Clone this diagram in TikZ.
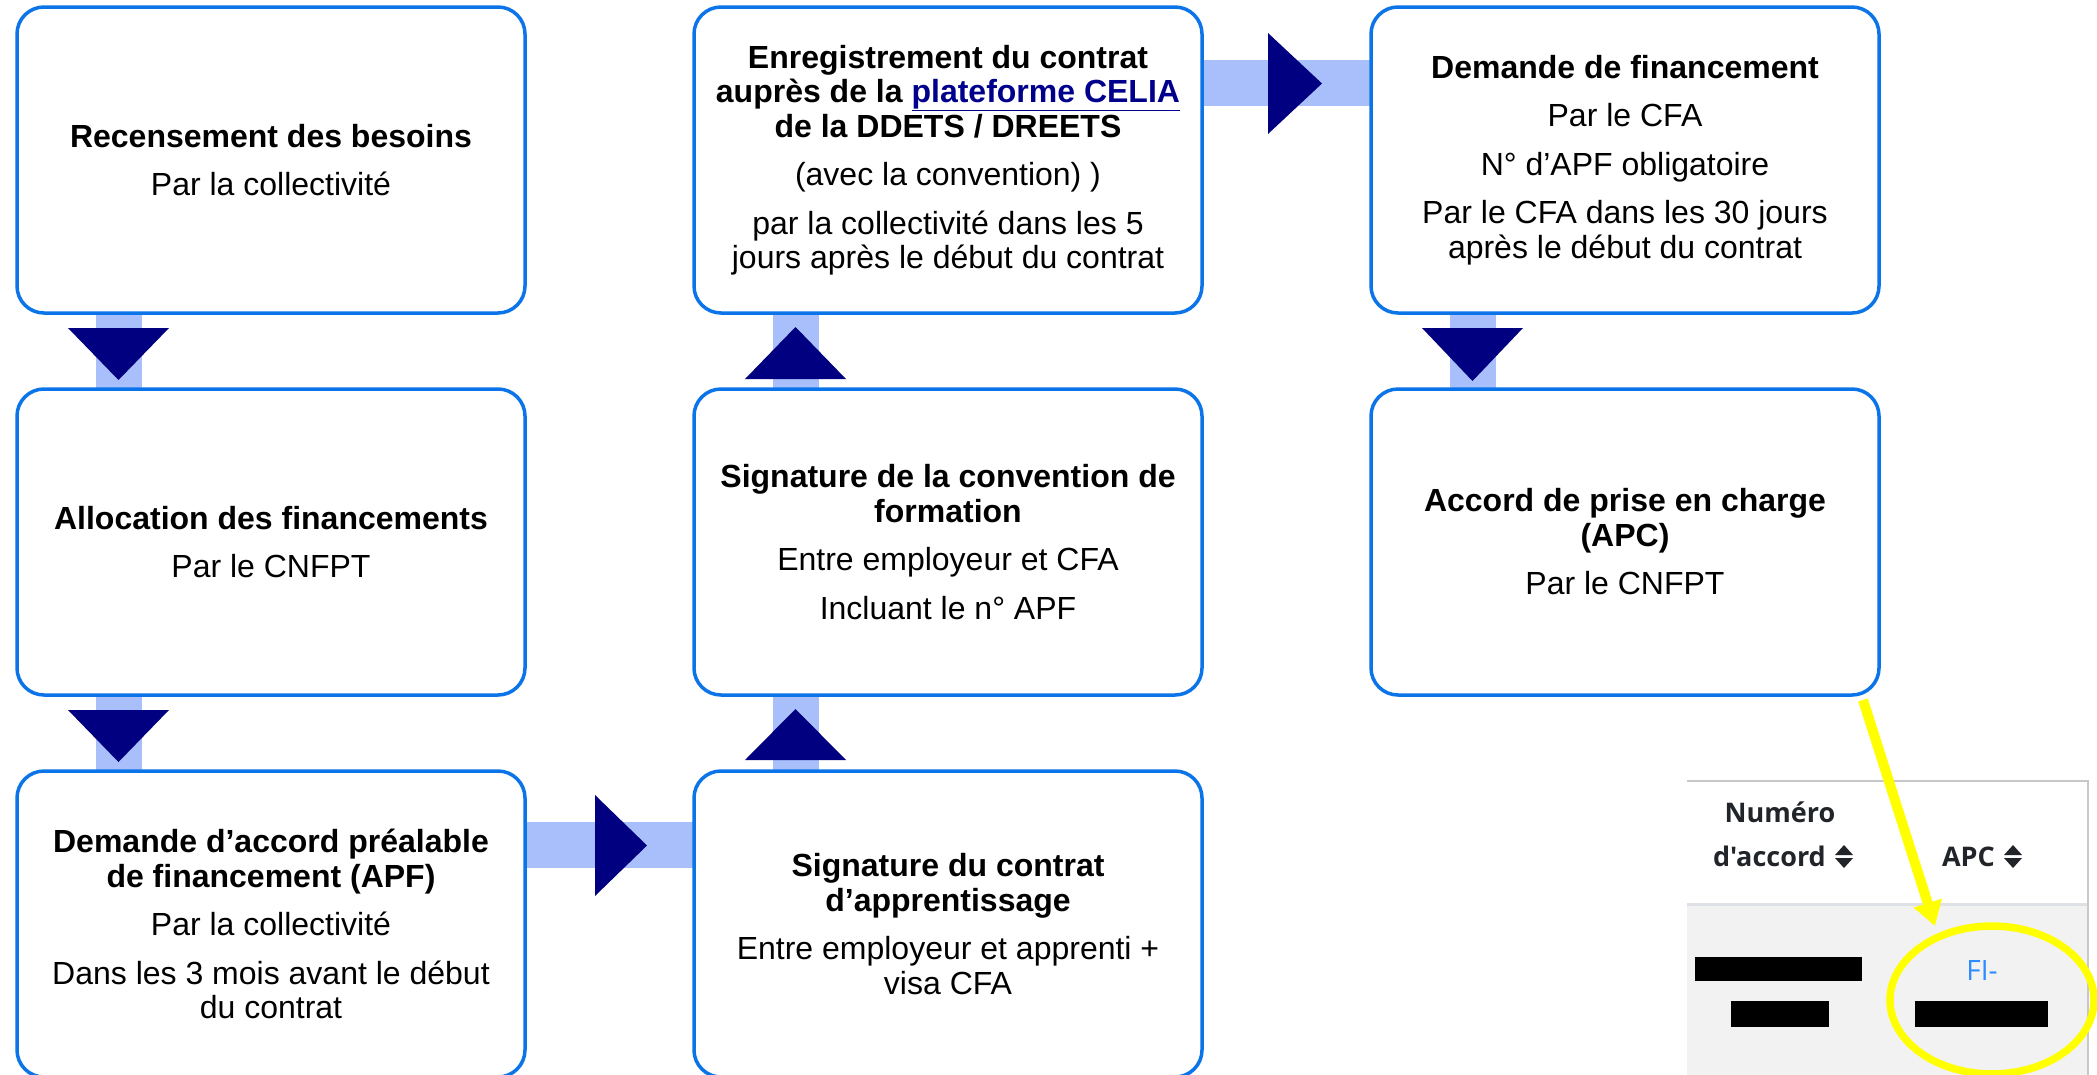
\documentclass[tikz,border=0pt]{standalone}
\usepackage{fontspec}
\setmainfont{Liberation Sans}
\newfontfamily\osans{Open Sans}
\usetikzlibrary{arrows.meta,calc,backgrounds}
\definecolor{boxblue}{RGB}{11,116,232}
\definecolor{barblue}{RGB}{169,191,251}
\definecolor{navy}{RGB}{0,0,128}
\definecolor{linknavy}{RGB}{0,0,140}
\definecolor{ink}{RGB}{33,37,41}
\definecolor{fiblue}{RGB}{45,140,255}
\definecolor{bodygray}{RGB}{242,242,242}
\definecolor{sepgray}{RGB}{222,226,230}
\definecolor{edgegray}{RGB}{200,200,200}
\definecolor{hiyellow}{RGB}{255,255,0}
\newcommand\boxtitle[1]{\textbf{#1}}
\tikzset{
  stepbox/.style={draw=boxblue, line width=3.5pt, fill=white, rounded corners=27pt,
    minimum width=508pt, minimum height=306pt, inner sep=0pt, outer sep=0pt,
    align=center, font=\fontsize{32}{34.5}\selectfont},
  bar/.style={draw=barblue, line width=46pt},
  tri/.style={fill=navy},
  hdr/.style={font=\osans\bfseries\fontsize{27}{30}\selectfont, text=ink, inner sep=0pt},
  redact/.style={fill=black},
  sorticon/.style={fill=ink},
}
\begin{document}
\begin{tikzpicture}[x=1pt,y=-1pt]
\useasboundingbox (0,0) rectangle (2097,1074);

% boxes
\node[stepbox] (b11) at (271,160) {\boxtitle{Recensement des besoins}\\[14pt] Par la collectivité};
\node[stepbox] (b21) at (271,542) {\boxtitle{Allocation des financements}\\[14pt] Par le CNFPT};
\node[stepbox] (b31) at (271,924) {\boxtitle{Demande d’accord préalable}\\ \boxtitle{de financement (APF)}\\[14pt] Par la collectivité\\[14pt] Dans les 3 mois avant le début\\ du contrat};
\node[stepbox] (b32) at (948,924) {\boxtitle{Signature du contrat}\\ \boxtitle{d’apprentissage}\\[14pt] Entre employeur et apprenti +\\ visa CFA};
\node[stepbox] (b22) at (948,542) {\boxtitle{Signature de la convention de}\\ \boxtitle{formation}\\[14pt] Entre employeur et CFA\\[14pt] Incluant le n° APF};
\node[stepbox] (b12) at (948,160) {\boxtitle{Enregistrement du contrat}\\ \boxtitle{auprès de la \textcolor{linknavy}{\underline{plateforme CELIA}}}\\ \boxtitle{de la DDETS / DREETS}\\[14pt] (avec la convention) )\\[14pt] par la collectivité dans les 5\\ jours après le début du contrat};
\node[stepbox] (b13) at (1625,160) {\boxtitle{Demande de financement}\\[14pt] Par le CFA\\[14pt] N° d’APF obligatoire\\[14pt] Par le CFA dans les 30 jours\\ après le début du contrat};
\node[stepbox] (b23) at (1625,542) {\boxtitle{Accord de prise en charge}\\ \boxtitle{(APC)}\\[14pt] Par le CNFPT};

% connector bars behind boxes
\begin{pgfonlayer}{background}
\fill[white] (0,0) rectangle (2097,1074);
\draw[bar] ($(b11.south west)+(102,0)$) -- ($(b21.north west)+(102,0)$);
\draw[bar] ($(b21.south west)+(102,0)$) -- ($(b31.north west)+(102,0)$);
\draw[bar] ($(b31.north east)+(0,74)$) -- ($(b32.north west)+(0,74)$);
\draw[bar] ($(b32.north west)+(102,0)$) -- ($(b22.south west)+(102,0)$);
\draw[bar] ($(b22.north west)+(102,0)$) -- ($(b12.south west)+(102,0)$);
\draw[bar] ($(b12.north east)+(0,76)$) -- ($(b13.north west)+(0,76)$);
\draw[bar] ($(b13.south west)+(102,0)$) -- ($(b23.north west)+(102,0)$);
\end{pgfonlayer}

% triangles
\fill[tri] ($(b11.south west)+(51,15)$) -- ++(101,0) -- ++(-50.5,52) -- cycle;
\fill[tri] ($(b21.south west)+(51,15)$) -- ++(101,0) -- ++(-50.5,52) -- cycle;
\fill[tri] ($(b31.north east)+(70,24)$) -- ++(0,101) -- ++(52,-50.5) -- cycle;
\fill[tri] ($(b22.south west)+(51,65)$) -- ++(101,0) -- ++(-50.5,-51) -- cycle;
\fill[tri] ($(b12.south west)+(51,66)$) -- ++(101,0) -- ++(-50.5,-52) -- cycle;
\fill[tri] ($(b12.north east)+(66,26)$) -- ++(0,101) -- ++(54,-50.5) -- cycle;
\fill[tri] ($(b13.south west)+(51,15)$) -- ++(101,0) -- ++(-50.5,53) -- cycle;

% screenshot inset
\fill[white] (1687,781) rectangle (2088,1080);
\fill[bodygray] (1687,905) rectangle (2087,1080);
\draw[sepgray, line width=3pt] (1687,904) -- (2087,904);
\draw[edgegray, line width=2pt] (1687,781) -- (2088,781) -- (2088,1080);
\node[hdr, anchor=base] (hnum) at (1780,822) {Numéro};
\node[hdr, anchor=base east] (hacc) at (1826,866) {d'accord};
\fill[sorticon] (1835,855) -- (1853,855) -- (1844,845) -- cycle;
\fill[sorticon] (1835,858) -- (1853,858) -- (1844,868) -- cycle;
\node[hdr, anchor=base east] (hapc) at (1995,866) {APC};
\fill[sorticon] (2004,855) -- (2022,855) -- (2013,845) -- cycle;
\fill[sorticon] (2004,858) -- (2022,858) -- (2013,868) -- cycle;
\node[font=\osans\fontsize{28}{30}\selectfont, text=fiblue, anchor=base, inner sep=0pt] (fi) at (1982,980) {FI-};
\fill[redact] (1695,957) rectangle (1862,981);
\fill[redact] (1731,1001) rectangle (1829,1027);
\fill[redact] (1915,1001) rectangle (2048,1027);

% yellow highlight
\coordinate (ys) at (1863,700);
\coordinate (ye) at (1935,926);
\draw[hiyellow, line width=10pt, -{Triangle[length=24pt,width=28pt]}] (ys) -- (ye);
\draw[hiyellow, line width=7.5pt] (1992,1000) ellipse [x radius=102, y radius=74];
\end{tikzpicture}
\end{document}
